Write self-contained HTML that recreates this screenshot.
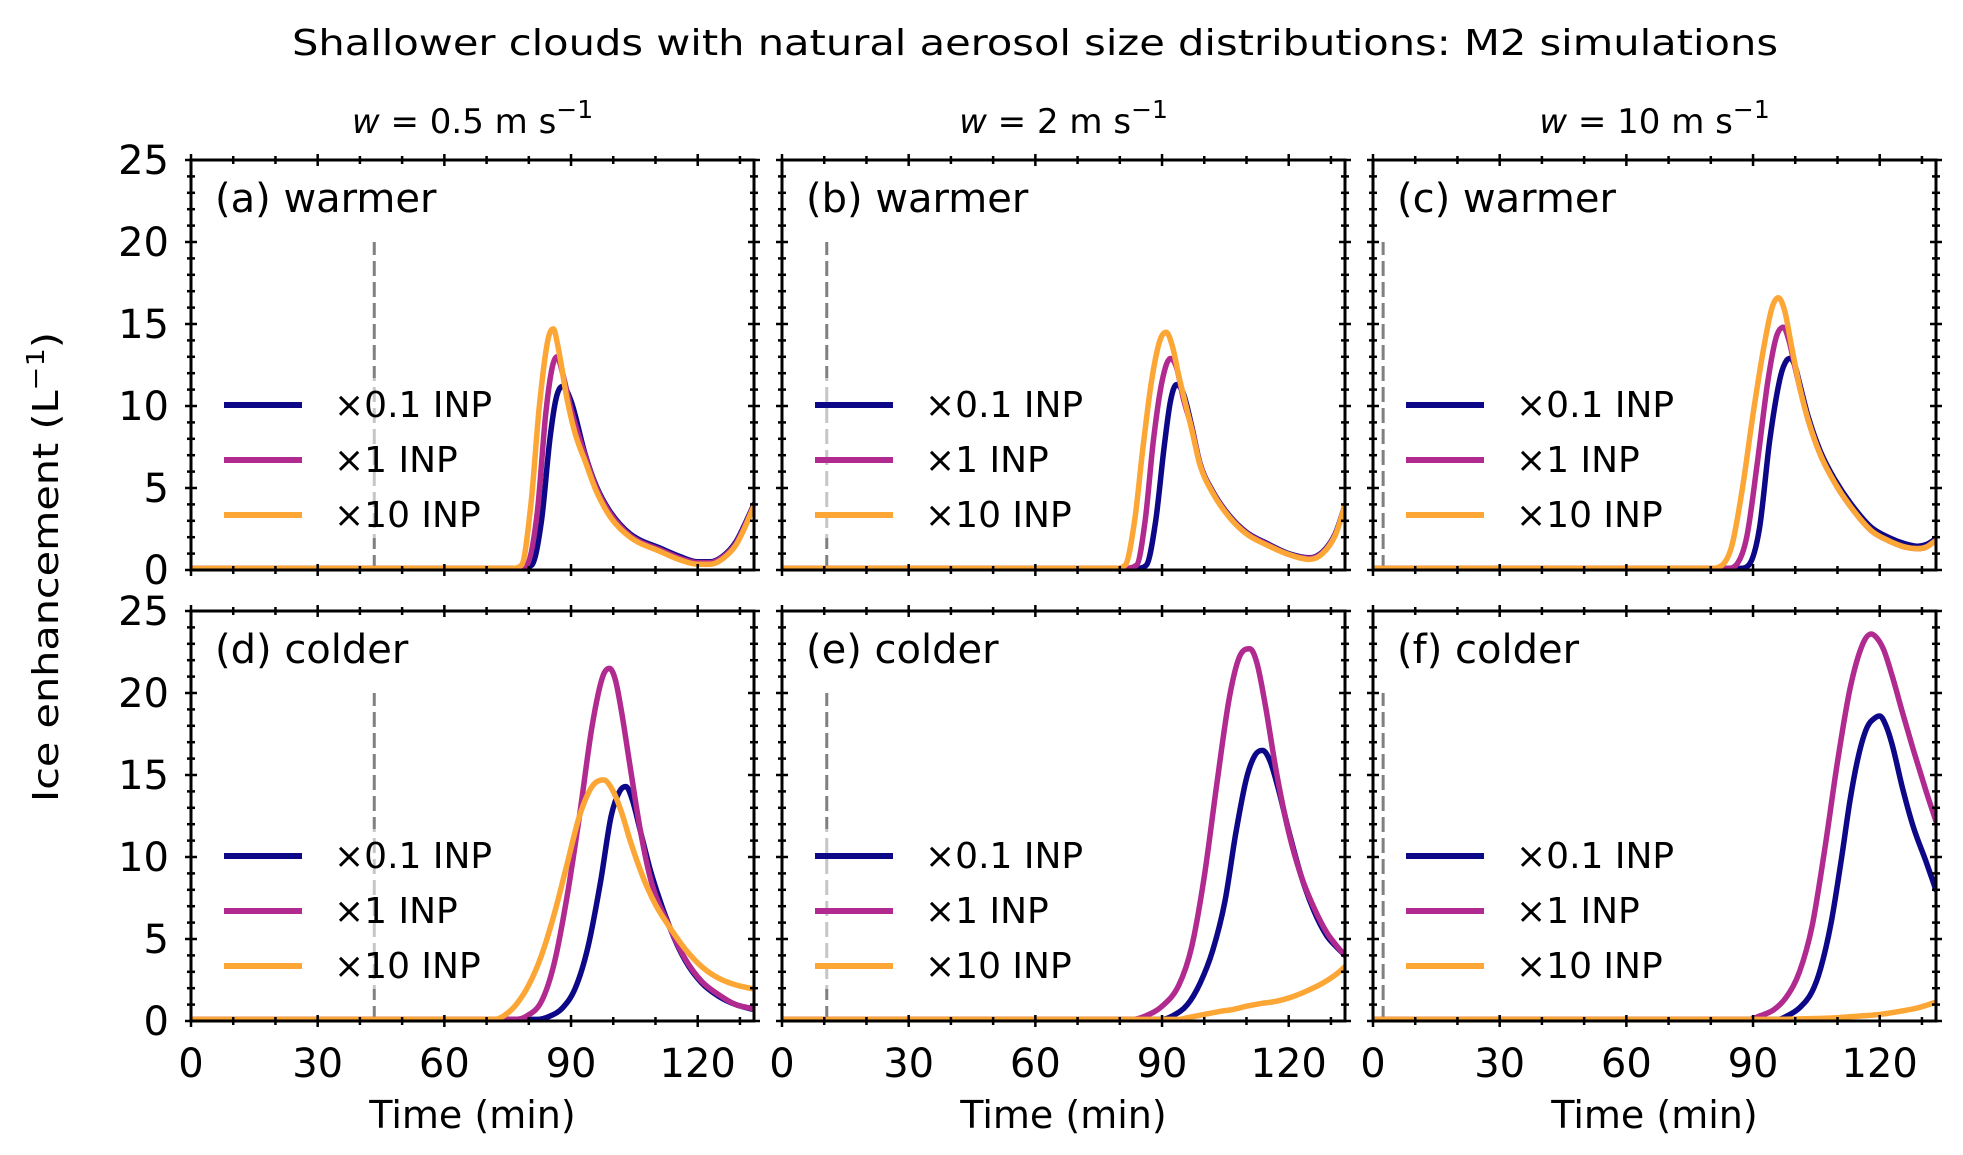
<!DOCTYPE html>
<html><head><meta charset="utf-8">
<style>
html,body{margin:0;padding:0;background:#fff;}
svg{display:block;}
text{font-family:"DejaVu Sans","Liberation Sans",sans-serif;fill:#000;}
</style></head>
<body>
<svg id="fig" width="1963" height="1155" viewBox="0 0 1963 1155" xmlns="http://www.w3.org/2000/svg">
<text x="1035" y="55" font-size="36" text-anchor="middle" textLength="1486" lengthAdjust="spacingAndGlyphs">Shallower clouds with natural aerosol size distributions: M2 simulations</text>
<text x="0" y="0" font-size="36" text-anchor="middle" transform="translate(58,567) rotate(-90)" textLength="470" lengthAdjust="spacingAndGlyphs">Ice enhancement (L<tspan dy="-14" font-size="25">−1</tspan><tspan dy="14">)</tspan></text>
<g id="plots"></g>
</svg>
<script>
// ---------- data ----------
const xTicks = [0, 30, 60, 90, 120];
const yTicks = [0, 5, 10, 15, 20, 25];
const xMax = 133.33;
const yMax = 25;
const columnTitles = ["0.5", "2", "10"];
const panelLabels = ["(a) warmer", "(b) warmer", "(c) warmer", "(d) colder", "(e) colder", "(f) colder"];
const seriesNames = ["×0.1 INP", "×1 INP", "×10 INP"];
const seriesColors = ["#0d0887", "#b12a90", "#fca636"];
const markerTimes = [43.4, 10.6, 2.4];
const markerTop = 20;

// panel a
const aT0 = [0,78,80.7,83,85,86.5,88,90,93.4,96,99.4,104,111.4,116,120,123,126,129,131,133.3];
const aV0 = [0.1,0.1,0.3,3,8,10.5,11.2,10.3,7,5.1,3.5,2.2,1.3,0.8,0.5,0.5,0.85,1.7,2.7,4.0];
const aT1 = [0,77,79.5,82,84,85.5,86.7,88,90,93.4,96,99.4,104,111.4,116,120,123,126,129,131,133.3];
const aV1 = [0.1,0.1,0.3,3.5,9.5,12.3,13,12,9.8,6.9,5.0,3.4,2.1,1.2,0.7,0.45,0.45,0.8,1.6,2.6,3.95];
const aT2 = [0,76,78.3,80.5,82.5,84.5,85.8,87,89,91,93.4,96,99.4,104,111.4,116,120,123,126,129,131,133.3];
const aV2 = [0.1,0.1,0.3,4,10,14,14.7,13.5,10.5,8.3,6.6,4.8,3.2,2.0,1.1,0.6,0.35,0.35,0.7,1.5,2.5,3.9];
// panel b
const bT0 = [0,84,86.3,88.5,90.5,92,93.4,95,97,99,102,106,110,115,120,124.9,128,131,133.3];
const bV0 = [0.1,0.1,0.3,3,7.5,10.3,11.3,10.8,8.8,6.5,4.8,3.3,2.3,1.6,1.0,0.75,1.1,2.2,3.9];
const bT1 = [0,81,84,86,88,90,92,93.5,95,97,99,102,106,110,115,120,124.9,128,131,133.3];
const bV1 = [0.1,0.1,0.3,3,8,11.5,12.9,12.3,10.5,8.7,6.45,4.75,3.25,2.25,1.55,0.95,0.72,1.05,2.15,3.9];
const bT2 = [0,79,81.3,83.5,85.5,87.5,89.5,91,92.5,94,95.5,97,99,102,106,110,115,120,124.9,128,131,133.3];
const bV2 = [0.1,0.1,0.3,3,7.5,11.5,14,14.5,13.6,11.8,10.2,8.6,6.4,4.7,3.2,2.2,1.5,0.95,0.65,1.0,2.1,3.9];
// panel c
const cT0 = [0,87,89,91.5,94,96.5,98,98.8,100,101,103,106,109.4,113,118,122,126,129,131,133.3];
const cV0 = [0.1,0.1,0.3,2.5,8,11.8,12.8,12.9,12.4,11.4,9.4,7.2,5.5,4.1,2.6,2.0,1.6,1.45,1.55,1.9];
const cT1 = [0,84,86,88.5,91,93.5,95.5,97.2,98.5,100,101,103,106,109.4,113,118,122,126,129,131,133.3];
const cV1 = [0.1,0.1,0.3,2,6.5,11.5,14.2,14.8,14,12.3,11.2,9.2,7,5.3,3.9,2.4,1.8,1.4,1.3,1.4,1.8];
const cT2 = [0,80,82.7,85,87.5,90,92.5,94.5,96,97.5,99,101,103,106,109.4,113,118,122,126,129,131,133.3];
const cV2 = [0.1,0.1,0.3,1.5,5,9.5,13.5,16,16.6,15.8,13.8,11.2,9.2,7,5.3,3.9,2.4,1.8,1.4,1.3,1.4,1.8];
// panel d
const dT0 = [0,82,85,88,91,94,97,99.5,101.5,103,104.5,106.5,109,113.4,117,121,125,129,133.3];
const dV0 = [0.1,0.1,0.3,0.8,2,4.5,8.5,12.5,14.0,14.3,13.5,11.5,9,5.7,3.7,2.3,1.5,1.0,0.7];
const dT1 = [0,77,79.5,83,86,89,92,95,97.5,99.1,100.5,102,104,106.5,109,113.4,117,121,125,129,133.3];
const dV1 = [0.1,0.1,0.3,1.2,3.5,7.5,12.5,18,21,21.5,20.8,18.8,15.5,11.5,8.5,5.7,3.8,2.4,1.6,1.0,0.75];
const dT2 = [0,72,74,77,80,83,86,89,92,95,97.7,100,102,104,107,110,113.4,117,121,125,129,133.3];
const dV2 = [0.1,0.1,0.3,1,2.2,4,6.5,9.5,12.5,14.3,14.7,14,12.7,11,8.8,7.1,5.7,4.4,3.3,2.6,2.2,1.95];
// panel e
const eT0 = [0,90,92.4,96,99,102,104.9,107.5,110,112,113.8,115.5,117.5,120,123,126,129,131,133.3];
const eV0 = [0.1,0.1,0.3,1,2.3,4.3,7.3,11.5,14.8,16.2,16.5,15.9,14.2,11.6,8.8,6.7,5.2,4.6,4.0];
const eT1 = [0,83,86,90,94,97,100,103,106,108.5,110.8,112.5,114.5,117,120,123,126,129,131,133.3];
const eV1 = [0.1,0.1,0.3,0.9,2.2,4.5,8.8,14.5,19.8,22.3,22.7,21.8,19.2,15.3,11.5,8.8,6.9,5.4,4.7,4.0];
const eT2 = [0,94,96,100,104,106.7,110,113,117,120,124,128,131,133.3];
const eV2 = [0.1,0.1,0.2,0.4,0.6,0.7,0.9,1.05,1.2,1.4,1.8,2.3,2.8,3.3];
// panel f
const fT0 = [0,96,98,101,104,106,108.5,111,113,115,117,119,120,121.5,123,125.4,128,131,133.3];
const fV0 = [0.1,0.1,0.3,0.8,1.8,3.2,6,10,13.5,16.2,17.9,18.5,18.6,18.0,16.8,14.2,11.8,9.7,8.0];
const fT1 = [0,89,91.5,95,98,101,104,107,110,113,116,118,119.5,121,123,125.4,128,131,133.3];
const fV1 = [0.1,0.1,0.3,0.7,1.5,3.0,5.8,10.5,15.8,20.3,23,23.6,23.3,22.6,21,18.8,16.5,14,12.2];
const fT2 = [0,95,100,105,110,115,120,125,129,131,133.3];
const fV2 = [0.1,0.1,0.12,0.15,0.2,0.3,0.4,0.6,0.8,0.95,1.15];

const panelTimes = [[aT0,aT1,aT2],[bT0,bT1,bT2],[cT0,cT1,cT2],[dT0,dT1,dT2],[eT0,eT1,eT2],[fT0,fT1,fT2]];
const panelValues = [[aV0,aV1,aV2],[bV0,bV1,bV2],[cV0,cV1,cV2],[dV0,dV1,dV2],[eV0,eV1,eV2],[fV0,fV1,fV2]];

// ---------- layout ----------
const NS = "http://www.w3.org/2000/svg";
const colLeft = [191, 782, 1373];
const panelW = 563;
const rowTop = [160, 611];
const panelH = 410;
const root = document.getElementById("plots");

function mk(tag, attrs, parent) {
  const e = document.createElementNS(NS, tag);
  for (const k in attrs) e.setAttribute(k, attrs[k]);
  (parent || root).appendChild(e);
  return e;
}

function monotonePath(xs, ys) {
  const n = xs.length;
  if (n < 2) return "";
  const d = [], m = new Array(n);
  for (let i = 0; i < n - 1; i++) d.push((ys[i+1]-ys[i])/(xs[i+1]-xs[i]));
  m[0] = d[0]; m[n-1] = d[n-2];
  for (let i = 1; i < n - 1; i++) m[i] = (d[i-1]*d[i] <= 0) ? 0 : (d[i-1]+d[i])/2;
  for (let i = 0; i < n - 1; i++) {
    if (d[i] === 0) { m[i] = 0; m[i+1] = 0; continue; }
    const a = m[i]/d[i], b = m[i+1]/d[i], s = a*a + b*b;
    if (s > 9) { const t = 3/Math.sqrt(s); m[i] = t*a*d[i]; m[i+1] = t*b*d[i]; }
  }
  let p = "M" + xs[0].toFixed(2) + "," + ys[0].toFixed(2);
  for (let i = 0; i < n - 1; i++) {
    const h = (xs[i+1]-xs[i])/3;
    p += " C" + (xs[i]+h).toFixed(2) + "," + (ys[i]+m[i]*h).toFixed(2) + " " +
         (xs[i+1]-h).toFixed(2) + "," + (ys[i+1]-m[i+1]*h).toFixed(2) + " " +
         xs[i+1].toFixed(2) + "," + ys[i+1].toFixed(2);
  }
  return p;
}

for (let p = 0; p < 6; p++) {
  const col = p % 3, row = Math.floor(p / 3);
  const L = colLeft[col], T = rowTop[row], R = L + panelW, B = T + panelH;
  const sx = t => L + t / xMax * panelW;
  const sy = v => B - v / yMax * panelH;

  const g = mk("g", {});
  
  

  const clip = mk("clipPath", {id: "clip" + p}, g);
  mk("rect", {x: L, y: T, width: panelW, height: panelH}, clip);

  const dl = mk("line", {x1: sx(markerTimes[col]), x2: sx(markerTimes[col]), y1: sy(0), y2: sy(markerTop),
    stroke: "#808080", "stroke-width": 3, "stroke-dasharray": "15 6"}, g);
  
  

  const lg = mk("g", {"clip-path": "url(#clip" + p + ")"}, g);
  for (let s = 0; s < 3; s++) {
    const ts = panelTimes[p][s], vs = panelValues[p][s];
    const path = mk("path", {d: monotonePath(ts.map(sx), vs.map(sy)), fill: "none",
      stroke: seriesColors[s], "stroke-width": 5.5, "stroke-linejoin": "round", "stroke-linecap": "round"}, lg);
    
    
  }

  const leg = mk("g", {}, g);
  
  
  mk("rect", {x: L + 22, y: T + 218, width: 300, height: 160, fill: "#fff", "fill-opacity": 0.55}, leg);
  for (let s = 0; s < 3; s++) {
    const yy = T + 245 + s * 55;
    const ln = mk("line", {x1: L + 33, x2: L + 111, y1: yy, y2: yy, stroke: seriesColors[s], "stroke-width": 6}, leg);
    
    
    const tx = mk("text", {x: L + 143, y: yy + 12, "font-size": 36}, leg);
    tx.textContent = seriesNames[s];
    
    
  }

  const pl = mk("text", {x: L + 24, y: T + 52, "font-size": 40}, g);
  pl.textContent = panelLabels[p];
  
  

  const tk = mk("g", {stroke: "#000", "stroke-width": 2.5}, g);
  
  
  for (let t = 0; t <= 130; t += 10) {
    const major = t % 30 === 0, len = major ? 6 : 4, x = sx(t);
    mk("line", {x1: x, x2: x, y1: B - len, y2: B + len}, tk);
    mk("line", {x1: x, x2: x, y1: T - len, y2: T + len}, tk);
  }
  for (let v = 0; v <= 25; v += 1) {
    const major = v % 5 === 0, len = major ? 6 : 4, y = sy(v);
    mk("line", {x1: L - len, x2: L + len, y1: y, y2: y}, tk);
    mk("line", {x1: R - len, x2: R + len, y1: y, y2: y}, tk);
  }
  const fr = mk("rect", {x: L, y: T, width: panelW, height: panelH, fill: "none", stroke: "#000", "stroke-width": 3}, g);
  
  

  if (col === 0) {
    for (const v of yTicks) {
      const yl = mk("text", {x: L - 22, y: sy(v) + 14, "font-size": 40, "text-anchor": "end"}, g);
      yl.textContent = v;
      
      
    }
  }
  if (row === 1) {
    for (const t of xTicks) {
      const xl = mk("text", {x: sx(t), y: B + 56, "font-size": 40, "text-anchor": "middle"}, g);
      xl.textContent = t;
      
      
    }
    const xt = mk("text", {x: L + panelW / 2, y: B + 107, "font-size": 38, "text-anchor": "middle"}, g);
    xt.textContent = "Time (min)";
    
    
  } else {
    const ct = mk("text", {x: L + panelW / 2, y: 133, "font-size": 34, "text-anchor": "middle"}, g);
    
    
    const w = mk("tspan", {"font-style": "italic"}, ct); w.textContent = "w";
    const r = mk("tspan", {}, ct); r.textContent = " = " + columnTitles[col] + " m s";
    const sup = mk("tspan", {dy: -15, "font-size": 25}, ct); sup.textContent = "−1";
  }
}
</script>
</body></html>
